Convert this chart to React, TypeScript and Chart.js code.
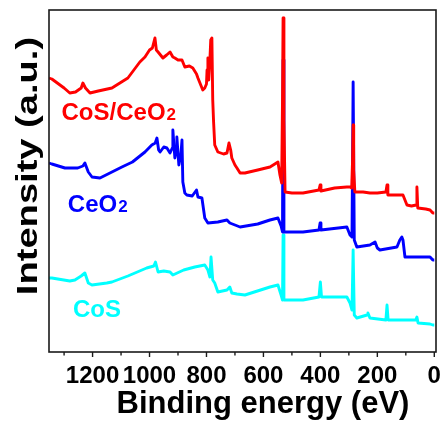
import React, { useEffect, useRef } from "react";
import { Chart, registerables } from "chart.js";

Chart.register(...registerables);

// Binding energy (eV) and intensity (a.u.)
const hybridEnergy = [1353,1343,1300,1280,1260,1240,1234,1225,1209,1180,1132,1076,1034,1016,1000,990,981,976,970,953,940,928,918,911,900,886,876,860,848,835,830,813,806,800,798,795,792,788,785,781,778,775,771,760,740,728,721,715,711,700,693,682,665,620,577,560,549,542,536,533,531,528,524,500,461,405,401,398,350,307,296,290,287,285,283,279,250,226,200,170,166,163,130,110,103,96,80,64,61,58,30,15,5,0];
const hybridIntensity = [274,273,264,259,260,264,269,264,259,261,264,274,290,295,302,304,314,302,300,294,297,300,295,294,292,292,285,286,284,278,274,262,264,268,282,294,272,292,312,314,252,230,207,200,198,199,209,202,194,187,184,179,179,182,185,188,190,177,169,252,334,232,160,159,159,162,167,161,164,165,165,164,192,227,182,160,160,159,159,160,167,157,157,157,152,147,146,147,165,144,143,142,139,139];

const ceo2Energy = [1353,1343,1297,1252,1234,1227,1215,1202,1174,1132,1097,1060,1016,992,980,974,968,963,950,939,928,920,918,911,906,904,897,890,886,883,876,869,850,835,830,816,806,795,760,728,718,700,682,620,577,549,538,533,531,528,524,461,405,401,398,307,296,289,285,281,272,226,208,200,191,131,121,114,110,103,96,50,15,5,0];
const ceo2Intensity = [189,188,184,184,186,189,180,175,174,180,185,190,200,207,209,214,202,200,205,204,199,204,222,194,202,215,187,197,212,170,159,157,156,162,155,154,134,129,130,132,129,127,125,128,132,134,126,120,292,120,120,120,122,129,122,125,117,115,270,112,105,107,110,104,102,105,112,115,112,95,95,95,95,92,92];

const cosEnergy = [1353,1343,1280,1262,1240,1227,1215,1202,1150,1132,1076,1010,985,979,970,950,928,918,880,841,806,795,788,784,778,771,760,728,718,711,693,665,577,549,538,533,531,528,461,405,400,396,307,296,289,285,281,272,236,233,226,170,166,162,110,65,61,57,15,5,0];
const cosIntensity = [74,74,71,72,76,79,69,67,69,70,76,84,86,90,80,81,80,77,82,85,87,82,75,95,72,69,60,62,65,59,58,57,65,67,57,52,117,52,52,55,70,55,55,49,42,102,37,34,37,39,34,32,47,32,32,32,35,29,28,27,27];

const seriesNames = ["CoS/CeO", "CeO", "CoS"];
const seriesSubs = ["2", "2", ""];
const seriesColors = ["#ff0000", "#0000ff", "#00ffff"];
// label anchors (energy, intensity)
const labelEnergy = [1309, 1287, 1269];
const labelIntensity = [232, 140, 35];

const majorTicks = [0, 200, 400, 600, 800, 1000, 1200];
const minorTicks = [100, 300, 500, 700, 900, 1100, 1300];

const xTitle = "Binding energy (eV)";
const yTitle = "Intensity (a.u.)";

const FONT = "'Liberation Sans', Arial, sans-serif";

const toPoints = (e: number[], i: number[]) => e.map((v, k) => ({ x: v, y: i[k] }));

const overlay = {
  id: "overlay",
  afterDraw(chart: any) {
    const { ctx, chartArea: a, scales } = chart;
    const x = scales.x;
    const y = scales.y;
    ctx.save();
    ctx.strokeStyle = "#1a1a1a";
    ctx.lineWidth = 1.6;
    ctx.strokeRect(a.left, a.top, a.right - a.left, a.bottom - a.top);
    ctx.lineWidth = 1.4;
    majorTicks.forEach((v) => {
      const px = x.getPixelForValue(v);
      ctx.beginPath();
      ctx.moveTo(px, a.bottom);
      ctx.lineTo(px, a.bottom + 5);
      ctx.stroke();
    });
    minorTicks.forEach((v) => {
      const px = x.getPixelForValue(v);
      ctx.beginPath();
      ctx.moveTo(px, a.bottom);
      ctx.lineTo(px, a.bottom + 3.5);
      ctx.stroke();
    });
    // series labels
    seriesNames.forEach((name, k) => {
      const px = x.getPixelForValue(labelEnergy[k]);
      const py = y.getPixelForValue(labelIntensity[k]);
      ctx.fillStyle = seriesColors[k];
      ctx.textAlign = "left";
      ctx.textBaseline = "alphabetic";
      ctx.font = `bold 24px ${FONT}`;
      ctx.fillText(name, px, py);
      const w = ctx.measureText(name).width;
      if (seriesSubs[k]) {
        ctx.font = `bold 17px ${FONT}`;
        ctx.fillText(seriesSubs[k], px + w + 1, py);
      }
    });
    // axis titles
    ctx.fillStyle = "#000";
    ctx.font = `bold 31px ${FONT}`;
    ctx.textAlign = "center";
    ctx.textBaseline = "alphabetic";
    ctx.fillText(xTitle, 263, 413);
    ctx.save();
    ctx.translate(37, 166);
    ctx.rotate(-Math.PI / 2);
    ctx.scale(1.27, 1);
    ctx.font = `bold 30px ${FONT}`;
    ctx.fillText(yTitle, 0, 0);
    ctx.restore();
    ctx.restore();
  },
};

export default function App() {
  const ref = useRef<HTMLCanvasElement | null>(null);
  useEffect(() => {
    if (!ref.current) return;
    const chart = new Chart(ref.current, {
      type: "line",
      data: {
        datasets: [
          { label: "CoS/CeO2", data: toPoints(hybridEnergy, hybridIntensity), borderColor: seriesColors[0] },
          { label: "CeO2", data: toPoints(ceo2Energy, ceo2Intensity), borderColor: seriesColors[1] },
          { label: "CoS", data: toPoints(cosEnergy, cosIntensity), borderColor: seriesColors[2] },
        ],
      },
      options: {
        responsive: false,
        animation: false,
        parsing: false as any,
        layout: { padding: { top: 10, right: 9, left: 0, bottom: 0 } },
        elements: {
          point: { radius: 0 },
          line: { borderWidth: 2.9, tension: 0, borderJoinStyle: "round" },
        },
        plugins: { legend: { display: false }, tooltip: { enabled: false }, title: { display: false } },
        scales: {
          x: {
            type: "linear",
            reverse: true,
            min: -6,
            max: 1353,
            afterFit: (s: any) => { s.height = 76; },
            afterBuildTicks: (s: any) => { s.ticks = majorTicks.map((v) => ({ value: v })); },
            grid: { display: false, drawTicks: false },
            border: { display: false },
            ticks: {
              autoSkip: false,
              maxRotation: 0,
              padding: 10,
              color: "#000",
              font: { family: FONT, size: 24, weight: "bold" },
              callback: (v: any) => String(v),
            },
          },
          y: {
            type: "linear",
            min: 0,
            max: 342,
            afterFit: (s: any) => { s.width = 49; },
            grid: { display: false, drawTicks: false },
            border: { display: false },
            ticks: { display: false },
          },
        },
      },
      plugins: [overlay],
    });
    return () => chart.destroy();
  }, []);
  return (
    <div style={{ position: "absolute", left: 0, top: 0, width: 445, height: 428, background: "#fff" }}>
      <canvas ref={ref} width={445} height={428} />
    </div>
  );
}
